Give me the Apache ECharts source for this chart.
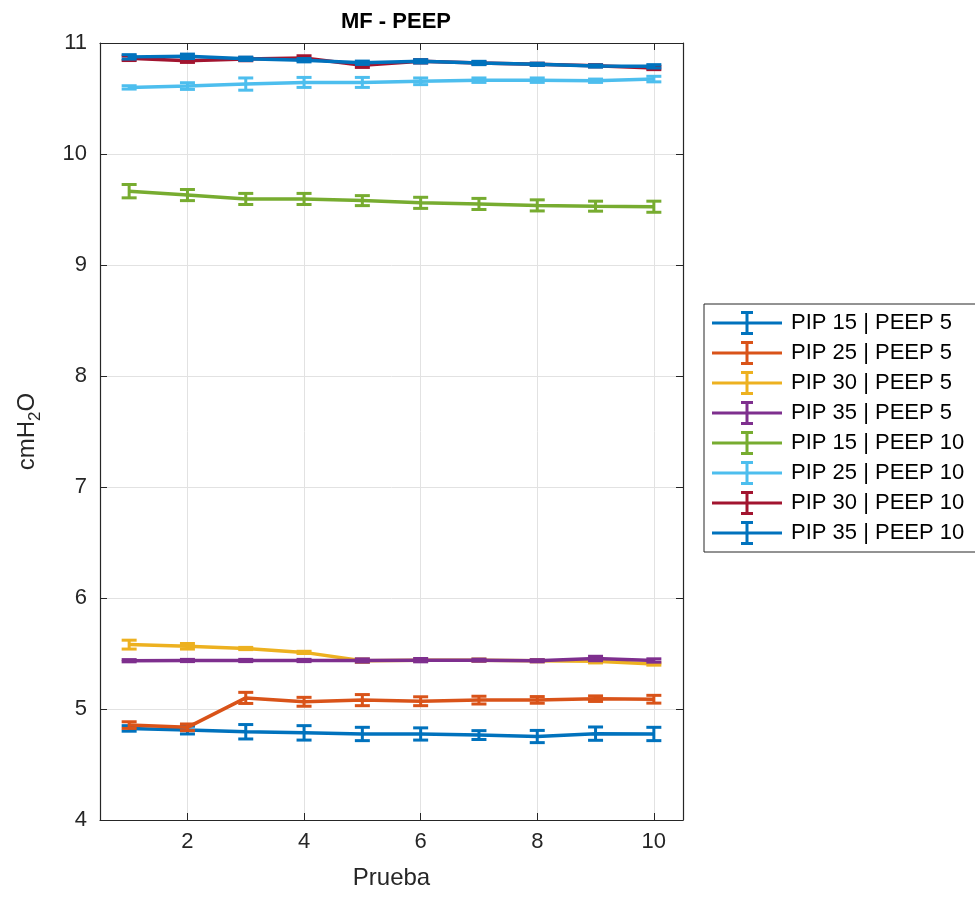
<!DOCTYPE html>
<html>
<head>
<meta charset="utf-8">
<script src="https://cdn.jsdelivr.net/npm/echarts@6/dist/echarts.min.js"></script>
<style>html,body{margin:0;padding:0;background:#fff}#c{width:975px;height:897px}</style>
</head>
<body>
<div id="c"></div>
<script>
const pruebas = [1, 2, 3, 4, 5, 6, 7, 8, 9, 10];
const seriesNames = ['PIP 15 | PEEP 5', 'PIP 25 | PEEP 5', 'PIP 30 | PEEP 5', 'PIP 35 | PEEP 5',
  'PIP 15 | PEEP 10', 'PIP 25 | PEEP 10', 'PIP 30 | PEEP 10', 'PIP 35 | PEEP 10'];
const colors = ['#0072BD', '#D95319', '#EDB120', '#7E2F8E', '#77AC30', '#4DBEEE', '#A2142F', '#0072BD'];

const pip15peep5 = [4.825, 4.81, 4.795, 4.785, 4.775, 4.775, 4.765, 4.752, 4.778, 4.775];
const pip25peep5 = [4.855, 4.835, 5.10, 5.065, 5.08, 5.07, 5.08, 5.082, 5.093, 5.088];
const pip30peep5 = [5.58, 5.565, 5.545, 5.51, 5.435, 5.44, 5.44, 5.435, 5.43, 5.405];
const pip35peep5 = [5.435, 5.437, 5.437, 5.437, 5.437, 5.44, 5.44, 5.435, 5.455, 5.437];
const pip15peep10 = [9.665, 9.63, 9.595, 9.595, 9.58, 9.56, 9.55, 9.537, 9.53, 9.525];
const pip25peep10 = [10.60, 10.612, 10.63, 10.645, 10.645, 10.655, 10.665, 10.665, 10.66, 10.675];
const pip30peep10 = [10.862, 10.84, 10.855, 10.865, 10.80, 10.835, 10.82, 10.808, 10.795, 10.775];
const pip35peep10 = [10.875, 10.88, 10.858, 10.845, 10.822, 10.835, 10.82, 10.808, 10.793, 10.79];

const err15peep5 = [0.025, 0.035, 0.065, 0.065, 0.06, 0.055, 0.04, 0.055, 0.06, 0.06];
const err25peep5 = [0.03, 0.03, 0.05, 0.04, 0.05, 0.04, 0.035, 0.03, 0.025, 0.035];
const err30peep5 = [0.04, 0.025, 0.01, 0.01, 0.015, 0.01, 0.01, 0.01, 0.015, 0.01];
const err35peep5 = [0.01, 0.01, 0.01, 0.01, 0.015, 0.015, 0.01, 0.01, 0.02, 0.015];
const err15peep10 = [0.06, 0.05, 0.05, 0.05, 0.045, 0.05, 0.05, 0.05, 0.045, 0.05];
const err25peep10 = [0.015, 0.03, 0.055, 0.045, 0.045, 0.03, 0.02, 0.02, 0.015, 0.025];
const err30peep10 = [0.02, 0.015, 0.015, 0.02, 0.02, 0.015, 0.01, 0.01, 0.01, 0.015];
const err35peep10 = [0.02, 0.02, 0.015, 0.015, 0.015, 0.015, 0.015, 0.01, 0.01, 0.015];

const yTicks = [4, 5, 6, 7, 8, 9, 10, 11];

const means = [pip15peep5, pip25peep5, pip30peep5, pip35peep5, pip15peep10, pip25peep10, pip30peep10, pip35peep10];
const errs = [err15peep5, err25peep5, err30peep5, err35peep5, err15peep10, err25peep10, err30peep10, err35peep10];

const FONT = 'Liberation Sans';
const axisColor = '#262626';
const icon = 'path://M0,10.5h70v3h-70z M33.5,1h3v22h-3z M29,0h12v3h-12z M29,21h12v3h-12z';

const series = [];
means.forEach((m, i) => {
  const c = colors[i];
  series.push({
    name: seriesNames[i], type: 'line', xAxisIndex: 0, yAxisIndex: 0,
    data: pruebas.map((x, k) => [x, m[k]]),
    showSymbol: false, symbol: 'none',
    lineStyle: { color: c, width: 3.5 }, itemStyle: { color: c },
    z: 2 + i * 2, animation: false
  });
  series.push({
    name: seriesNames[i], type: 'custom', xAxisIndex: 0, yAxisIndex: 0,
    data: pruebas.map((x, k) => [x, m[k] - errs[i][k], m[k] + errs[i][k]]),
    itemStyle: { color: c },
    z: 3 + i * 2, animation: false,
    renderItem: function (params, api) {
      const x = api.value(0);
      const lo = api.coord([x, api.value(1)]);
      const hi = api.coord([x, api.value(2)]);
      const hw = 7.5;
      const st = { stroke: c, lineWidth: 3 };
      return {
        type: 'group',
        children: [
          { type: 'line', shape: { x1: lo[0], y1: lo[1], x2: hi[0], y2: hi[1] }, style: st },
          { type: 'line', shape: { x1: lo[0] - hw, y1: lo[1], x2: lo[0] + hw, y2: lo[1] }, style: st },
          { type: 'line', shape: { x1: hi[0] - hw, y1: hi[1], x2: hi[0] + hw, y2: hi[1] }, style: st }
        ]
      };
    }
  });
});

const option = {
  backgroundColor: '#ffffff',
  animation: false,
  color: colors,
  title: {
    text: 'MF - PEEP', left: 391, top: 6, textAlign: 'center',
    textStyle: { fontFamily: FONT, fontWeight: 'bold', fontSize: 22, color: '#000' }
  },
  legend: {
    orient: 'vertical', left: 704, top: 304,
    data: seriesNames.map(n => ({ name: n, icon: icon })),
    itemWidth: 70, itemHeight: 24, itemGap: 6,
    padding: [7, 60, 7, 8],
    borderColor: axisColor, borderWidth: 1,
    backgroundColor: '#fff',
    selectedMode: false,
    itemStyle: { borderWidth: 0 },
    textStyle: { fontFamily: FONT, fontSize: 22, color: '#000', padding: [0, 0, 0, 4] }
  },
  grid: { left: 100, right: 292, top: 43, bottom: 77, containLabel: false },
  xAxis: [{
    type: 'value', min: 0.5, max: 10.5, splitNumber: 5, position: 'bottom',
    name: 'Prueba', nameLocation: 'middle', nameGap: 46,
    nameTextStyle: { fontFamily: FONT, fontSize: 24, color: axisColor },
    axisLine: { show: true, onZero: false, lineStyle: { color: axisColor, width: 1.2 } },
    axisTick: { show: true, inside: true, length: 7, lineStyle: { color: axisColor } },
    axisLabel: { showMinLabel: false, showMaxLabel: false, fontFamily: FONT, fontSize: 22, color: axisColor, margin: 11 },
    splitLine: { show: true, lineStyle: { color: '#e2e2e2', width: 1 } }
  }, {
    type: 'value', min: 0.5, max: 10.5, splitNumber: 5, position: 'top',
    axisLine: { show: true, onZero: false, lineStyle: { color: axisColor, width: 1.2 } },
    axisTick: { show: true, inside: true, length: 7, lineStyle: { color: axisColor } },
    axisLabel: { show: false }, splitLine: { show: false }
  }],
  yAxis: [{
    type: 'value', min: yTicks[0], max: yTicks[yTicks.length - 1], interval: 1, position: 'left',
    name: 'cmH{s|2}O', nameLocation: 'middle', nameGap: 56, nameRotate: 90,
    nameTextStyle: { fontFamily: FONT, fontSize: 24, color: axisColor,
      rich: { s: { fontFamily: FONT, fontSize: 17, color: axisColor, verticalAlign: 'bottom', padding: [16, 0, 0, 0] } } },
    axisLine: { show: true, onZero: false, lineStyle: { color: axisColor, width: 1.2 } },
    axisTick: { show: true, inside: true, length: 7, lineStyle: { color: axisColor } },
    axisLabel: { fontFamily: FONT, fontSize: 22, color: axisColor, margin: 13 },
    splitLine: { show: true, lineStyle: { color: '#e2e2e2', width: 1 } }
  }, {
    type: 'value', min: yTicks[0], max: yTicks[yTicks.length - 1], interval: 1, position: 'right',
    axisLine: { show: true, onZero: false, lineStyle: { color: axisColor, width: 1.2 } },
    axisTick: { show: true, inside: true, length: 7, lineStyle: { color: axisColor } },
    axisLabel: { show: false }, splitLine: { show: false }
  }],
  series: series
};

const chart = echarts.init(document.getElementById('c'), null, { renderer: 'canvas' });
chart.setOption(option);
</script>
</body>
</html>
